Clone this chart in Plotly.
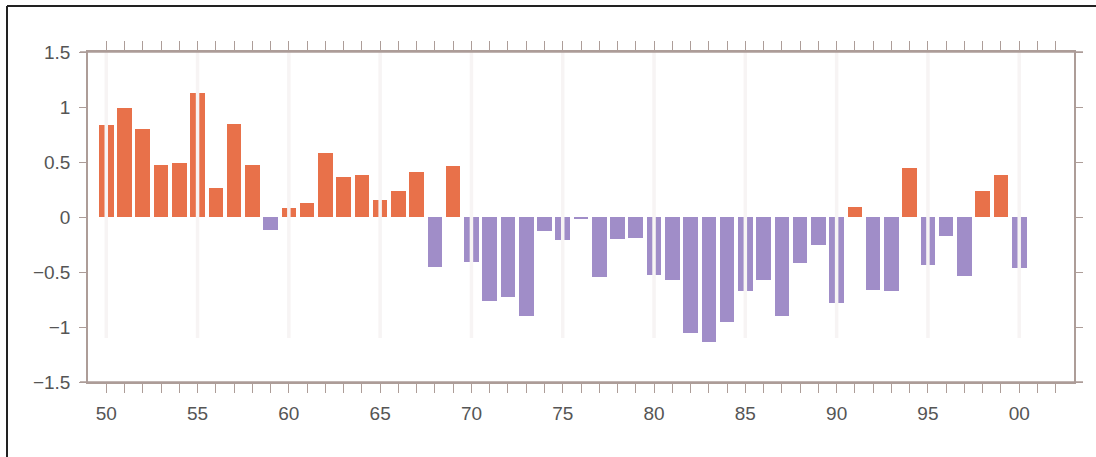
import plotly.graph_objects as go

years = list(range(1950, 2001))
values = [
    0.84, 0.99, 0.80, 0.47, 0.49, 1.13, 0.26, 0.85, 0.475, -0.12,
    0.08, 0.13, 0.58, 0.36, 0.38, 0.155, 0.235, 0.41, -0.45, 0.46,
    -0.41, -0.76, -0.73, -0.90, -0.13, -0.21, -0.01, -0.545, -0.20, -0.19,
    -0.53, -0.575, -1.05, -1.14, -0.95, -0.67, -0.57, -0.90, -0.42, -0.255,
    -0.78, 0.095, -0.66, -0.67, 0.45, -0.44, -0.17, -0.54, 0.24, 0.385,
    -0.46,
]
tick_years = list(range(1950, 2003))
tick_labels = [f"{y % 100:02d}" if y % 5 == 0 else "" for y in tick_years]
y_ticks = [-1.5, -1, -0.5, 0, 0.5, 1, 1.5]
y_labels = ["\u22121.5", "\u22121", "\u22120.5", "0", "0.5", "1", "1.5"]
grid_years = list(range(1950, 2001, 5))

POS = "#e8714a"
NEG = "#a08dc8"
AX = "#ad9d98"
colors = [POS if v >= 0 else NEG for v in values]

fig = go.Figure()
fig.add_trace(go.Bar(x=years, y=values, marker=dict(color=colors, line=dict(width=0)),
                     width=0.8, showlegend=False))

W, H = 1096, 457
L, R, T, B = 88, 22, 52, 75
pw, ph = W - L - R, H - T - B

def px(x):
    return (x - L) / pw

def py(y):
    return (H - B - y) / ph

shapes = []
for g in grid_years:
    shapes.append(dict(type="line", xref="x", yref="y", x0=g, x1=g, y0=-1.1, y1=1.5,
                       line=dict(color="#f7f4f4", width=3.5), layer="above"))
# extended horizontal axis lines
for yy in (0, 1):
    shapes.append(dict(type="line", xref="paper", yref="paper", x0=px(80), x1=px(1083),
                       y0=yy, y1=yy, line=dict(color=AX, width=1.5), layer="above"))
# black frame (top and left)
shapes.append(dict(type="line", xref="paper", yref="paper", x0=px(7), x1=px(1100),
                   y0=py(6), y1=py(6), line=dict(color="#222222", width=2)))
shapes.append(dict(type="line", xref="paper", yref="paper", x0=px(7), x1=px(7),
                   y0=py(6), y1=py(460), line=dict(color="#222222", width=2)))

fig.update_layout(
    width=W, height=H, autosize=False,
    margin=dict(l=L, r=R, t=T, b=B, pad=0),
    paper_bgcolor="white", plot_bgcolor="white",
    shapes=shapes, bargap=0,
    font=dict(family="Liberation Sans, Arial, sans-serif", size=19, color="#555555"),
    xaxis=dict(range=[1949, 2003], tickvals=tick_years, ticktext=tick_labels,
               ticks="outside", ticklen=9, tickwidth=1.3, tickcolor=AX,
               showline=True, linecolor=AX, linewidth=1.5, mirror="ticks",
               showgrid=False, zeroline=False, ticklabelstandoff=4),
    yaxis=dict(range=[-1.5, 1.5], tickvals=y_ticks, ticktext=y_labels,
               ticks="outside", ticklen=7, tickwidth=1.3, tickcolor=AX,
               showline=True, linecolor=AX, linewidth=1.5, mirror="ticks",
               showgrid=False, zeroline=False, ticklabelstandoff=5),
)

fig.write_html("out.html", config={"displayModeBar": False},
               post_script="document.body.style.margin='0';")
